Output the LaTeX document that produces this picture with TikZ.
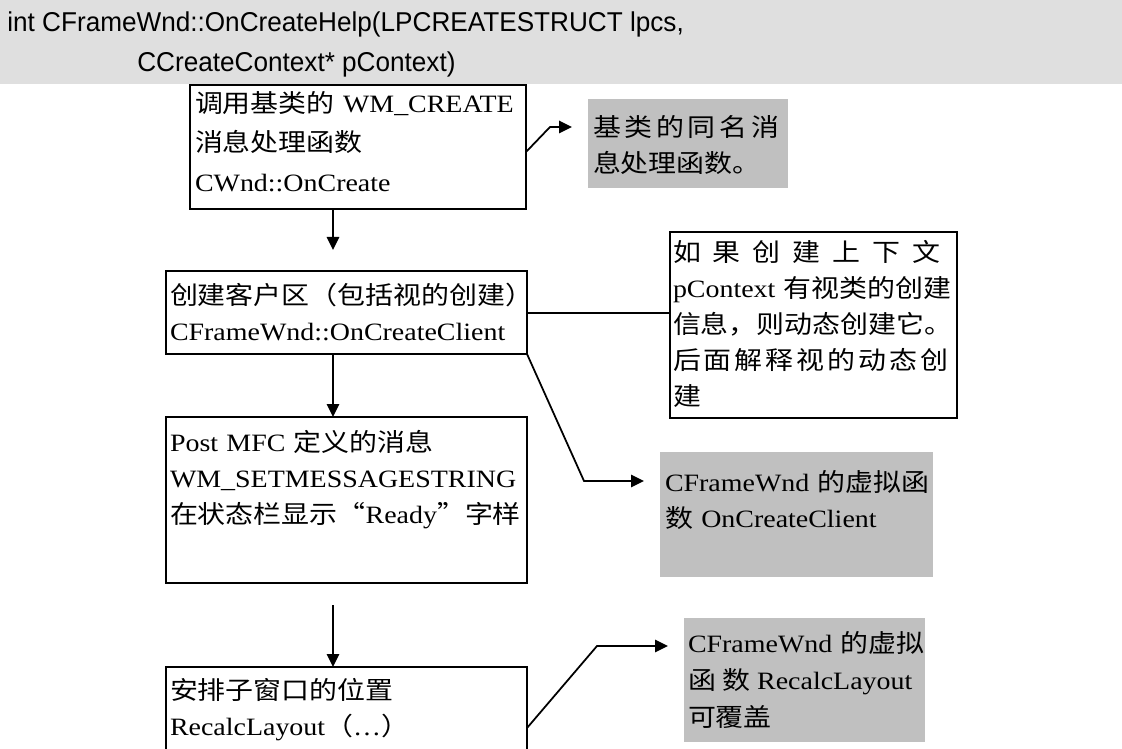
\documentclass[tikz,border=0pt]{standalone}
\usepackage{fontspec}
\setmainfont{Liberation Serif}[FakeStretch=1.12]
\newfontfamily\cjkfont{Noto Sans CJK SC}[FakeStretch=1.12]
\newfontfamily\hdrfont{Liberation Sans}[FakeStretch=0.96]
\usetikzlibrary{arrows.meta,calc}
\definecolor{hdrgray}{HTML}{DFDFDF}
\definecolor{boxgray}{HTML}{C0C0C0}
\newcommand\pxu{0.02cm}
\newcommand\zh[1]{{\cjkfont #1}}
\newcommand\zlq{\makebox[0.56cm][r]{\cjkfont “}}
\newcommand\zrq{\makebox[0.56cm][l]{\cjkfont ”}}
\newcommand\bodyfont{\fontsize{14.2pt}{20.5pt}\selectfont}
\begin{document}
\begin{tikzpicture}[x=\pxu, y=-\pxu,
  box/.style={draw, line width=1.1pt, inner sep=0pt, outer sep=0pt, anchor=north west},
  gbox/.style={fill=boxgray, inner sep=0pt, outer sep=0pt, anchor=north west},
  sz/.style 2 args={minimum width=#1*\pxu, minimum height=#2*\pxu},
  txt/.style={inner sep=0pt, outer sep=0pt, anchor=north west, align=left, font=\bodyfont},
  hdr/.style={inner sep=0pt, anchor=base west, font=\hdrfont\fontsize{15.5pt}{23pt}\selectfont},
  conn/.style={line width=1pt},
  arr/.style={conn, -{Triangle[length=0.26cm, width=0.25cm]}},
]
\clip (0,0) rectangle (1122,749);
% header
\node[gbox, fill=hdrgray, sz={1122}{84}] (band) at (0,0) {};
\node[hdr] (h1) at (7,32) {int CFrameWnd::OnCreateHelp(LPCREATESTRUCT lpcs,};
\node[hdr] (h2) at (137,72) {CCreateContext* pContext)};
% boxes
\node[box, sz={336}{124}] (b1) at (190,85) {};
\node[box, sz={361}{83}]  (b2) at (166,271) {};
\node[box, sz={361}{166}] (b3) at (166,417) {};
\node[box, sz={361}{110}] (b4) at (166,667) {};
\node[gbox, sz={200}{89}]  (gA) at (588,99) {};
\node[box, sz={287}{186}]  (bB) at (670,232) {};
\node[gbox, sz={273}{125}] (gC) at (660,452) {};
\node[gbox, sz={241}{124}] (gD) at (684,618) {};
% texts
\node[txt, text width=7.2cm, font=\fontsize{14.2pt}{22.4pt}\selectfont] (t1) at ([shift={(5,0)}]b1.north west)
  {\strut\zh{调用基类的} WM\_CREATE\\\zh{消息处理函数}\\CWnd::OnCreate};
\node[txt, text width=7.6cm] (t2) at ([shift={(4,8)}]b2.north west)
  {\strut\zh{创建客户区（包括视的创建）}\\CFrameWnd::OnCreateClient};
\node[txt, text width=7.6cm] (t3) at ([shift={(4,9)}]b3.north west)
  {\strut Post MFC \zh{定义的消息}\\WM\_SETMESSAGESTRING\\\zh{在状态栏显示}\zlq Ready\zrq\zh{字样}};
\node[txt, text width=7.6cm] (t4) at ([shift={(4,7)}]b4.north west)
  {\strut\zh{安排子窗口的位置}\\RecalcLayout\zh{（}…\zh{）}};
\node[txt, text width=4.2cm] (tA) at ([shift={(5,12)}]gA.north west)
  {\strut\makebox[3.8cm][l]{\cjkfont 基\hfil 类\hfil 的\hfil 同\hfil 名\hfil 消}\\\zh{息处理函数。}};
\node[txt, text width=6cm] (tB) at ([shift={(3,4)}]bB.north west)
  {\strut\makebox[5.58cm][l]{\cjkfont 如\hfil 果\hfil 创\hfil 建\hfil 上\hfil 下\hfil 文}\\
   \makebox[5.58cm][l]{pContext \zh{有视类的创建}}\\
   \makebox[5.58cm][l]{\zh{信息，则动态创建它。}}\\
   \makebox[5.58cm][l]{\cjkfont 后\hfil 面\hfil 解\hfil 释\hfil 视\hfil 的\hfil 动\hfil 态\hfil 创}\\
   \zh{建}};
\node[txt, text width=6cm] (tC) at ([shift={(5,14)}]gC.north west)
  {\strut CFrameWnd \zh{的虚拟函}\\\zh{数} OnCreateClient};
\node[txt, text width=5.4cm, font=\fontsize{14.2pt}{21.2pt}\selectfont] (tD) at ([shift={(4,8)}]gD.north west)
  {\strut CFrameWnd \zh{的虚拟}\\\makebox[4.62cm][l]{\zh{函}\hfil\zh{数}\hfil RecalcLayout}\\\zh{可覆盖}};
% connectors
\coordinate (x1) at (333,250);
\draw[arr] (b1.south -| x1) -- (x1);
\draw[arr] (b2.south -| x1) -- (b3.north -| x1);
\coordinate (x3) at (333,605);
\draw[arr] (x3) -- (b4.north -| x3);
\coordinate (kA) at (550,127);
\draw[arr, shorten >=0.32cm] (b1.east |- 0,152) -- (kA) -- (gA.west |- kA);
\draw[conn] (b2.east |- 0,313) -- (bB.west |- 0,313);
\coordinate (kC) at (584,481);
\draw[arr, shorten >=0.32cm] (b2.south east) -- (kC) -- (gC.west |- kC);
\coordinate (kD) at (597,646);
\draw[arr, shorten >=0.32cm] (b4.east |- 0,728) -- (kD) -- (gD.west |- kD);
\end{tikzpicture}
\end{document}
